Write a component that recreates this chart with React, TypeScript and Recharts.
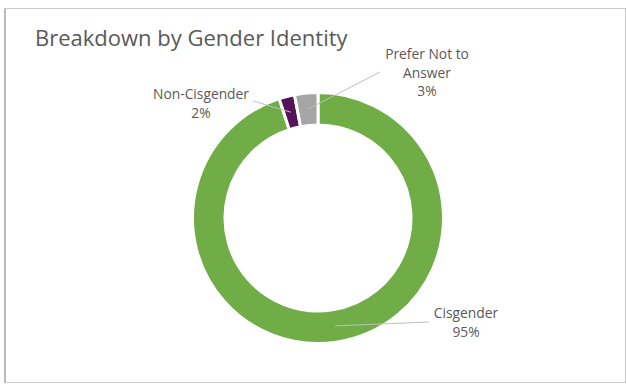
import React from 'react';
import { PieChart, Pie, Cell } from 'recharts';

const categories = ['Cisgender', 'Non-Cisgender', 'Prefer Not to Answer'];
const shares = [95, 2, 3];
const labelLines = [['Cisgender'], ['Non-Cisgender'], ['Prefer Not to', 'Answer']];

const colors = ['#70AD47', '#561458', '#A5A5A5'];

// label placement relative to the pie centre (text x, first line y, leader end x, leader end y)
const labelSpots = [
  { tx: 148, ty: 94, lx: 111, ly: 104 },
  { tx: -117, ty: -125, lx: -65, ly: -117 },
  { tx: 109, ty: -165, lx: 62, ly: -146 }
];

const data = categories.map((name, i) => ({ name, value: shares[i] }));

const RADIAN = Math.PI / 180;
const font = '"Open Sans", sans-serif';

function renderLabel(props: any) {
  const { cx, cy, midAngle, innerRadius, outerRadius, index, value } = props;
  const spot = labelSpots[index];
  const r = (innerRadius + outerRadius) / 2;
  const ax = cx + r * Math.cos(-midAngle * RADIAN);
  const ay = cy + r * Math.sin(-midAngle * RADIAN);
  const lines = [...labelLines[index], `${value}%`];
  return (
    <g>
      <polyline
        points={`${ax},${ay} ${cx + spot.lx},${cy + spot.ly}`}
        fill="none"
        stroke="#BFBFBF"
        strokeWidth={1}
      />
      <text
        x={cx + spot.tx}
        y={cy + spot.ty}
        textAnchor="middle"
        dominantBaseline="central"
        fill="#595959"
        fontSize={13.8}
        fontFamily={font}
      >
        {lines.map((t, i) => (
          <tspan key={i} x={cx + spot.tx} dy={i === 0 ? 0 : 18.5}>
            {t}
          </tspan>
        ))}
      </text>
    </g>
  );
}

export default function App() {
  return (
    <div style={{ position: 'absolute', left: 0, top: 0, width: 626, height: 385, background: '#fff' }}>
      <div
        style={{
          position: 'absolute',
          left: 4,
          top: 8,
          width: 619,
          height: 373,
          borderTop: '1px solid #C8C8C8',
          borderRight: '1px solid #C8C8C8',
          borderBottom: '1px solid #D0D0D0',
          borderLeft: '2px solid #BBBBBB'
        }}
      />
      <div
        style={{
          position: 'absolute',
          left: 35,
          top: 22,
          fontFamily: font,
          fontSize: 22,
          lineHeight: '30px',
          color: '#595959',
          whiteSpace: 'nowrap'
        }}
      >
        Breakdown by Gender Identity
      </div>
      <div style={{ position: 'absolute', left: 0, top: 0 }}>
        <PieChart width={626} height={385} margin={{ top: 0, right: 0, bottom: 0, left: 0 }}>
          <Pie
            data={data}
            dataKey="value"
            nameKey="name"
            cx={318}
            cy={218}
            innerRadius={93}
            outerRadius={125.5}
            startAngle={90}
            endAngle={-270}
            stroke="#FFFFFF"
            strokeWidth={3}
            label={renderLabel}
            labelLine={false}
            isAnimationActive={false}
          >
            {data.map((d, i) => (
              <Cell key={d.name} fill={colors[i]} />
            ))}
          </Pie>
        </PieChart>
      </div>
    </div>
  );
}
